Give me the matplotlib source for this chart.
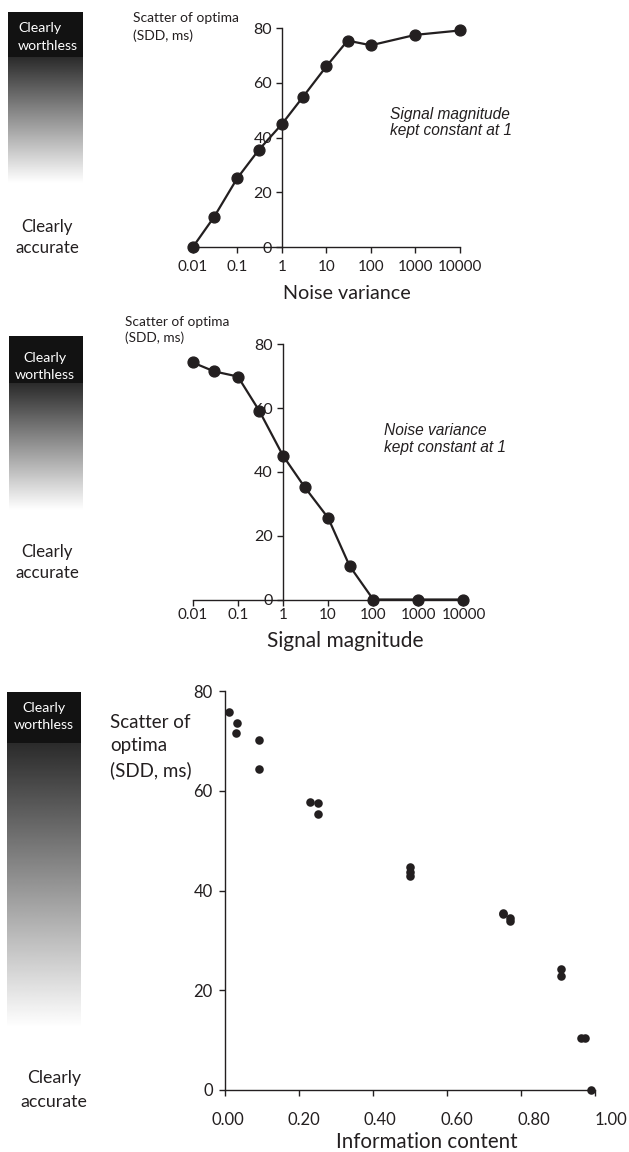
import numpy as np
import matplotlib
matplotlib.use("Agg")
import matplotlib.pyplot as plt
from matplotlib.patches import Rectangle

# ---------------- data ----------------
noise_var = [0.01, 0.03, 0.1, 0.3, 1, 3, 10, 30, 100, 1000, 10000]
sdd_noise = [0, 11, 25.2, 35.4, 44.9, 54.9, 66, 75.4, 73.7, 77.5, 79.1]

signal_mag = [0.01, 0.03, 0.1, 0.3, 1, 3, 10, 30, 100, 1000, 10000]
sdd_signal = [74.3, 71.5, 69.9, 59.1, 45.1, 35.3, 25.6, 10.5, 0, 0, 0]

info_content = [0.011, 0.033, 0.029, 0.091, 0.091, 0.231, 0.251, 0.251,
                0.50, 0.50, 0.50, 0.751, 0.751, 0.77, 0.77, 0.908, 0.908,
                0.963, 0.973, 0.989]
sdd_info = [75.85, 73.5, 71.6, 70.1, 64.4, 57.7, 57.5, 55.4,
            44.8, 43.8, 43.0, 35.5, 35.2, 34.5, 33.9, 24.3, 22.9,
            10.5, 10.5, 0.1]

log_ticks = [0.01, 0.1, 1, 10, 100, 1000, 10000]
log_labels = ["0.01", "0.1", "1", "10", "100", "1000", "10000"]
y_ticks = [0, 20, 40, 60, 80]
info_ticks = [0.0, 0.2, 0.4, 0.6, 0.8, 1.0]
info_labels = ["0.00", "0.20", "0.40", "0.60", "0.80", "1.00"]

# ---------------- style ----------------
W, H = 629, 1152
INK = "#231f20"
FONT = "Lato"
ITAL = ["Liberation Sans"]
plt.rcParams["font.family"] = [FONT, "DejaVu Sans"]
plt.rcParams["text.color"] = INK
plt.rcParams["axes.edgecolor"] = INK
plt.rcParams["xtick.color"] = INK
plt.rcParams["ytick.color"] = INK

fig = plt.figure(figsize=(W / 100, H / 100), dpi=100)


def box(x0, y0, x1, y1):
    return [x0 / W, 1 - y1 / H, (x1 - x0) / W, (y1 - y0) / H]


def ftext(x, y, s, **kw):
    fig.text(x / W, 1 - y / H, s, **kw)


def style_axes(ax, xfs, yfs, xpad, ypad):
    for s in ("top", "right"):
        ax.spines[s].set_visible(False)
    for s in ("left", "bottom"):
        ax.spines[s].set_linewidth(1.0)
    ax.tick_params(axis="both", which="major", direction="out", length=4.3,
                   width=1.0)
    ax.tick_params(axis="x", pad=xpad, labelsize=xfs)
    ax.tick_params(axis="y", pad=ypad, labelsize=yfs)
    ax.tick_params(which="minor", length=0)
    ax.set_facecolor("none")


def gradient_bar(x0, x1, yh0, yg0, yg1):
    ax = fig.add_axes(box(x0, yh0, x1, yg1))
    grad = np.linspace(0.17, 1.0, 256).reshape(-1, 1)
    ax.imshow(grad, aspect="auto", cmap="gray", vmin=0, vmax=1,
              extent=[0, 1, yg1, yg0], interpolation="bilinear")
    ax.add_patch(Rectangle((0, yh0), 1, yg0 - yh0, color="#121212", lw=0))
    ax.set_xlim(0, 1)
    ax.set_ylim(yg1, yh0)
    ax.axis("off")


# ---------------- panel 1 : noise variance ----------------
ax1 = fig.add_axes(box(192.7, 28, 460, 247.3))
ax1.plot(noise_var, sdd_noise, color=INK, lw=1.6, marker="o", ms=7.8,
         mfc=INK, mec=INK, clip_on=False, zorder=5)
ax1.set_xscale("log")
ax1.set_xlim(0.01, 10000)
ax1.set_ylim(0, 80)
ax1.spines["left"].set_position(("data", 1))
ax1.set_xticks(log_ticks)
ax1.set_xticklabels(log_labels)
ax1.set_yticks(y_ticks)
style_axes(ax1, 11, 11.5, 5, 2.5)

gradient_bar(8, 83, 12, 57, 183)
ftext(18, 27.5, "Clearly", color="white", fontsize=10.2, ha="left", va="center")
ftext(18, 46, "worthless", color="white", fontsize=10.2, ha="left", va="center")
ftext(47, 227, "Clearly", fontsize=12.2, ha="center", va="center")
ftext(47, 248, "accurate", fontsize=12.2, ha="center", va="center")
ftext(133, 18.5, "Scatter of optima", fontsize=10, ha="left", va="center")
ftext(133, 35.5, "(SDD, ms)", fontsize=10, ha="left", va="center")
ftext(390.5, 115, "Signal magnitude", fontsize=11.2, style="italic",
      family=ITAL, ha="left", va="center")
ftext(390.5, 131, "kept constant at 1", fontsize=11.2, style="italic",
      family=ITAL, ha="left", va="center")
ftext(346.5, 294, "Noise variance", fontsize=14.2, ha="center", va="center")

# ---------------- panel 2 : signal magnitude ----------------
ax2 = fig.add_axes(box(192.7, 344.3, 463.5, 599.5))
ax2.plot(signal_mag, sdd_signal, color=INK, lw=1.6, marker="o", ms=7.8,
         mfc=INK, mec=INK, clip_on=False, zorder=5)
ax2.set_xscale("log")
ax2.set_xlim(0.01, 10000)
ax2.set_ylim(0, 80)
ax2.spines["left"].set_position(("data", 1))
ax2.set_xticks(log_ticks)
ax2.set_xticklabels(log_labels)
ax2.set_yticks(y_ticks)
style_axes(ax2, 11, 11.5, 2, 3)

gradient_bar(9, 83, 336, 383, 510)
ftext(45, 357.5, "Clearly", color="white", fontsize=10.2, ha="center", va="center")
ftext(45, 375, "worthless", color="white", fontsize=10.2, ha="center", va="center")
ftext(47, 552, "Clearly", fontsize=12.2, ha="center", va="center")
ftext(47, 573, "accurate", fontsize=12.2, ha="center", va="center")
ftext(125, 321.5, "Scatter of optima", fontsize=9.8, ha="left", va="center")
ftext(125, 337.5, "(SDD, ms)", fontsize=9.8, ha="left", va="center")
ftext(384.3, 430.7, "Noise variance", fontsize=11.2, style="italic",
      family=ITAL, ha="left", va="center")
ftext(384.3, 447.3, "kept constant at 1", fontsize=11.2, style="italic",
      family=ITAL, ha="left", va="center")
ftext(345, 641, "Signal magnitude", fontsize=15, ha="center", va="center")

# ---------------- panel 3 : information content ----------------
ax3 = fig.add_axes(box(225, 691, 595, 1090))
ax3.scatter(info_content, sdd_info, s=38, color=INK, lw=0, clip_on=False,
            zorder=5)
ax3.set_xlim(0, 1)
ax3.set_ylim(0, 80)
ax3.set_xticks(info_ticks)
ax3.set_xticklabels([])
ax3.set_yticks(y_ticks)
style_axes(ax3, 12, 12, 12, 4.5)
# tick labels drift slightly to the right in the original figure
label_dx = [3, 5, 7, 10, 13, 16]
for v, lab, dx in zip(info_ticks, info_labels, label_dx):
    ax3.annotate(lab, xy=(v, 0), xycoords=("data", "axes fraction"),
                 xytext=(dx, -30), textcoords="offset pixels",
                 ha="center", va="center", fontsize=12, color=INK,
                 annotation_clip=False)

gradient_bar(7, 81, 692, 743, 1028)
ftext(44, 708, "Clearly", color="white", fontsize=10.2, ha="center", va="center")
ftext(44, 725, "worthless", color="white", fontsize=10.2, ha="center", va="center")
ftext(54, 1078, "Clearly", fontsize=12.8, ha="center", va="center")
ftext(54, 1102, "accurate", fontsize=12.8, ha="center", va="center")
ftext(110, 722, "Scatter of", fontsize=13.5, ha="left", va="center")
ftext(110, 746, "optima", fontsize=13.5, ha="left", va="center")
ftext(110, 770, "(SDD, ms)", fontsize=13.5, ha="left", va="center")
ftext(427, 1142, "Information content", fontsize=14.8, ha="center", va="center")

fig.savefig("out.png", dpi=100, facecolor="white")
